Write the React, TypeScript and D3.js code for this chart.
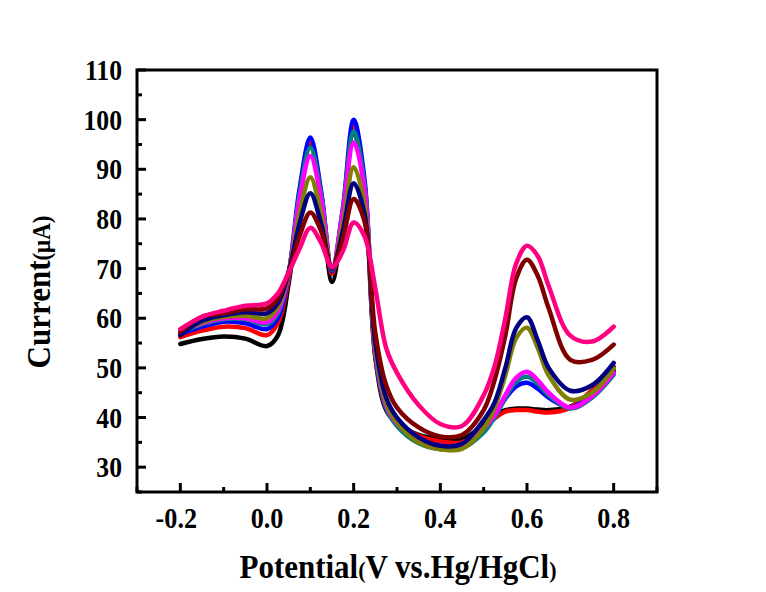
import React, { useEffect, useRef } from "react"
import * as d3 from "d3"

// Potential (V) sampled along the sweep
const potentials = [-0.2, -0.15, -0.1, -0.05, 0, 0.025, 0.05, 0.075, 0.1, 0.125, 0.15, 0.175, 0.2, 0.225, 0.25, 0.275, 0.3, 0.35, 0.4, 0.45, 0.5, 0.525, 0.55, 0.575, 0.6, 0.625, 0.65, 0.7, 0.75, 0.8]

// Current (uA) for each curve
const curveBlack = [54.8, 55.8, 56.3, 55.9, 54.4, 56.5, 67, 84, 95, 84, 67.3, 80, 97.5, 86, 52, 41.5, 38.8, 36.5, 35.7, 35.6, 38.6, 40.5, 41.5, 41.8, 41.8, 41.6, 41.5, 42.2, 45.3, 49.4]
const curveRed = [56.2, 57.5, 58.3, 58, 56.6, 59, 68, 85, 95.5, 85, 69, 81, 99, 87, 52.5, 42, 39, 36.3, 35.2, 35, 37.8, 39.8, 41.2, 41.5, 41.5, 41.2, 41, 42, 45.5, 50.3]
const curveBlue = [56.8, 58.3, 59.3, 59, 57.8, 60, 69, 86, 96.4, 85.5, 69.5, 82, 100, 88, 53, 42, 38.8, 35.6, 34.3, 34.4, 37.5, 40.2, 43.8, 46.3, 47, 45.8, 44, 42, 44.8, 50]
const curveTeal = [57, 58.8, 59.8, 59.8, 58.8, 61, 69, 85, 94.4, 85, 69.8, 82, 97.6, 87, 53, 42, 38.3, 34.8, 33.6, 33.8, 37, 40, 44, 47.2, 48.2, 46.8, 44.5, 41.8, 44, 48.6]
const curveMagenta = [57.2, 59, 60, 60, 59.2, 61.5, 69, 84, 92.7, 84, 70, 81.5, 95.4, 86, 53.5, 42.5, 38.8, 35.5, 34.3, 34.6, 37.8, 40.5, 44.5, 48, 49.2, 47.5, 45, 42, 44.3, 49]
const curveOlive = [57, 59.2, 60.3, 60.5, 60, 62.3, 69.2, 81, 88.4, 81, 70, 79, 90.4, 83, 54, 43, 39, 35, 33.6, 33.7, 37.8, 42, 48.5, 56, 58.1, 54, 48.5, 43.6, 45, 49.9]
const curveNavy = [56.6, 59.5, 60.6, 61.2, 61, 63, 69.3, 79, 85.2, 79, 70, 77.5, 87.2, 81, 55, 44, 40, 36, 34.3, 34.7, 39.5, 43, 50, 58, 60.2, 55.5, 50, 45.4, 46.5, 51]
const curveMaroon = [57.3, 60.3, 61, 61.8, 62, 64, 69.3, 76.5, 81.3, 77.5, 70.2, 76, 84, 79.5, 57, 46.5, 42, 38, 36.2, 36.5, 41.5, 47.5, 56.5, 68, 71.8, 68.5, 62, 51.6, 51.6, 54.7]
const curvePink = [57.8, 60.3, 61.5, 62.5, 63, 65, 69.2, 74, 78.2, 75.2, 70.3, 73.5, 79.3, 76.5, 66, 54, 49, 42.5, 38.7, 38.3, 44.5, 50.3, 60, 71, 74.6, 72.5, 66.5, 56.5, 55.3, 58.3]

const seriesValues = [curveBlack, curveRed, curveBlue, curveTeal, curveMagenta, curveOlive, curveNavy, curveMaroon, curvePink]
const seriesColors = ["#000000", "#ff0000", "#0000ff", "#008080", "#ff00ff", "#808000", "#000080", "#800000", "#ff0080"]

const xTicks = [-0.2, 0, 0.2, 0.4, 0.6, 0.8]
const xMinorTicks = [-0.3, -0.1, 0.1, 0.3, 0.5, 0.7, 0.9]
const yTicks = [30, 40, 50, 60, 70, 80, 90, 100, 110]
const yMinorTicks = [25, 35, 45, 55, 65, 75, 85, 95, 105]

const FONT = "'Liberation Serif', 'Times New Roman', serif"

const App = () => {
    const refSvg = useRef<SVGSVGElement>(null)

    useEffect(() => {
        const svg = d3.select(refSvg.current)
        svg.selectAll("*").remove()

        const box = { left: 137, right: 657, top: 70, bottom: 492 }

        const scaleX = d3.scaleLinear().domain([-0.3, 0.9]).range([box.left, box.right])
        const scaleY = d3.scaleLinear().domain([25, 110]).range([box.bottom, box.top])

        // Curves first, frame drawn over them.
        const line = d3.line<number>()
            .x((d, i) => scaleX(potentials[i]))
            .y(d => scaleY(d))
            .curve(d3.curveCatmullRom.alpha(0.5))

        svg.append("g")
            .selectAll("path")
            .data(seriesValues)
            .join("path")
            .attr("d", d => line(d))
            .attr("fill", "none")
            .attr("stroke", (d, i) => seriesColors[i])
            .attr("stroke-width", 4.5)
            .attr("stroke-linejoin", "round")
            .attr("stroke-linecap", "round")

        // Frame
        svg.append("rect")
            .attr("x", box.left)
            .attr("y", box.top)
            .attr("width", box.right - box.left)
            .attr("height", box.bottom - box.top)
            .attr("fill", "none")
            .attr("stroke", "#000")
            .attr("stroke-width", 3)

        // Inward ticks on bottom and left
        const gTicks = svg.append("g").attr("stroke", "#000").attr("stroke-width", 3)
        gTicks.selectAll(".xmaj").data(xTicks).join("line")
            .attr("x1", d => scaleX(d)).attr("x2", d => scaleX(d))
            .attr("y1", box.bottom).attr("y2", box.bottom - 9)
        gTicks.selectAll(".xmin").data(xMinorTicks).join("line")
            .attr("x1", d => scaleX(d)).attr("x2", d => scaleX(d))
            .attr("y1", box.bottom).attr("y2", box.bottom - 5)
        gTicks.selectAll(".ymaj").data(yTicks).join("line")
            .attr("y1", d => scaleY(d)).attr("y2", d => scaleY(d))
            .attr("x1", box.left).attr("x2", box.left + 9)
        gTicks.selectAll(".ymin").data(yMinorTicks).join("line")
            .attr("y1", d => scaleY(d)).attr("y2", d => scaleY(d))
            .attr("x1", box.left).attr("x2", box.left + 5)

        // Tick labels (slightly tall, condensed glyphs like the original)
        svg.append("g")
            .selectAll("text")
            .data(xTicks)
            .join("text")
            .attr("transform", d => `translate(${scaleX(d) - (d < 0 ? 4 : 0)}, ${box.bottom + 36}) scale(0.97, 1.12)`)
            .attr("text-anchor", "middle")
            .attr("font-family", FONT)
            .attr("font-weight", "bold")
            .attr("font-size", 27)
            .text(d => d.toFixed(1))

        svg.append("g")
            .selectAll("text")
            .data(yTicks)
            .join("text")
            .attr("transform", d => `translate(${box.left - 15}, ${scaleY(d) + 10}) scale(0.95, 1.12)`)
            .attr("text-anchor", "end")
            .attr("font-family", FONT)
            .attr("font-weight", "bold")
            .attr("font-size", 27)
            .text(d => d)

        // Axis titles
        const xTitle = svg.append("text")
            .attr("transform", "translate(398, 578) scale(1, 1.08)")
            .attr("text-anchor", "middle")
            .attr("font-family", FONT)
            .attr("font-weight", "bold")
            .attr("font-size", 31)
        xTitle.append("tspan").text("Potential")
        xTitle.append("tspan").attr("font-size", 22).text("(")
        xTitle.append("tspan").text("V vs.Hg/HgCl")
        xTitle.append("tspan").attr("font-size", 22).text(")")

        const yTitle = svg.append("text")
            .attr("transform", "translate(50, 292) rotate(-90) scale(1, 1.08)")
            .attr("text-anchor", "middle")
            .attr("font-family", FONT)
            .attr("font-weight", "bold")
            .attr("font-size", 31)
        yTitle.append("tspan").text("Current")
        yTitle.append("tspan").attr("font-size", 23).text("(μA)")
    }, [])

    return (
        <svg ref={refSvg} width={766} height={592}
            style={{ position: "absolute", left: 0, top: 0, background: "#fff" }}></svg>
    )
}

export default App
